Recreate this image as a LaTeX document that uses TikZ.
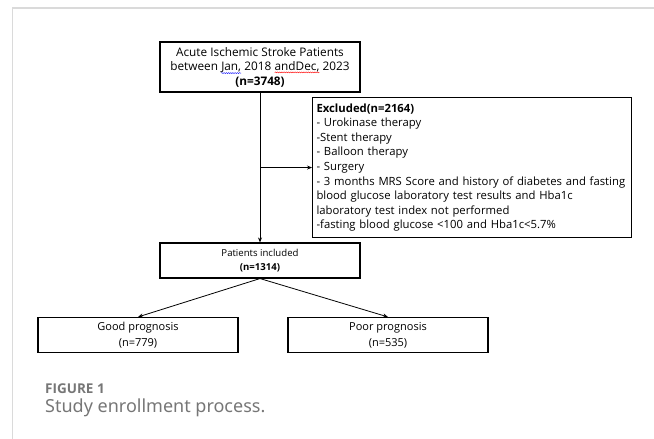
\documentclass[tikz,border=0pt]{standalone}
\usepackage{fontspec}
\setmainfont{Open Sans}
\newfontfamily\capfont{Noto Sans}
\usetikzlibrary{positioning,arrows.meta,decorations.pathmorphing}
\definecolor{framegray}{RGB}{218,218,218}
\definecolor{capgray}{RGB}{118,118,118}

% spell-check style wavy underline
\newcommand{\squig}[2]{\tikz[baseline=(sq.base)]{\node[draw=none, font={}, inner sep=0pt, outer sep=0pt,
    minimum width=0pt, minimum height=0pt] (sq) {#2};
  \draw[#1, line width=0.4pt, decorate, decoration={snake, amplitude=0.5pt, segment length=2.2pt}]
    ([yshift=-0.3pt]sq.south west) -- ([yshift=-0.3pt]sq.south east);}}

\begin{document}
\begin{tikzpicture}[x=1pt, y=-1pt, every node/.style={font=\fontsize{11.8}{14.5}\selectfont}]
  \tikzset{
    box/.style={draw, line width=1.1pt, minimum width=200pt, minimum height=35pt, align=center, inner sep=2pt},
    link/.style={line width=0.8pt, -{Stealth[length=5pt, width=4pt]}}
  }
  \useasboundingbox (0,0) rectangle (654,439);

  % --- panel frame ---
  \draw[framegray, line width=1.2pt] (654,8) -- (12.5,8) -- (12.5,439);

  % --- enrollment boxes ---
  \node[box, minimum height=50pt] (total) at (260,67)
    {Acute Ischemic Stroke Patients\\between \squig{blue}{Jan,} 2018 \squig{red}{andDec,} 2023\\\textbf{(n=3748)}};
  \node[box, anchor=north west, minimum width=319pt, minimum height=140pt, text width=311pt,
        align=left, inner xsep=4pt, font=\fontsize{11.3}{14.6}\selectfont] (excl) at (312,97)
    {\textbf{Excluded(n=2164)}\\
     - Urokinase therapy\\
     -Stent therapy\\
     - Balloon therapy\\
     - Surgery\\
     - 3 months MRS Score and history of diabetes and fasting\\
     blood glucose laboratory test results and Hba1c\\
     laboratory test index not performed\\
     -fasting blood glucose <100 and Hba1c<5.7\%};
  \node[box, font=\fontsize{9.6}{14}\selectfont] (incl) at (260,260.5) {Patients included\\\textbf{(n=1314)}};
  \node[box, font=\fontsize{11}{16}\selectfont] (good) at (138,335) {Good prognosis\\(n=779)};
  \node[box, font=\fontsize{11}{16}\selectfont] (poor) at (388,335) {Poor prognosis\\(n=535)};

  % --- connectors ---
  \coordinate (split) at (total.south |- excl.west);
  \draw[link] (total.south) -- (incl.north);
  \draw[link] (split) -- (excl.west);
  \draw[link] (incl.south) -- (good.north);
  \draw[link] (incl.south) -- (poor.north);

  % --- caption ---
  \node[anchor=west, inner sep=0pt, text=capgray, font=\bfseries\fontsize{13.5}{16}\selectfont] (fig) at (45,389) {FIGURE 1};
  \node[anchor=west, inner sep=0pt, text=capgray, font=\capfont\fontsize{18}{21}\selectfont] (cap) at (45,408) {Study enrollment process.};
\end{tikzpicture}
\end{document}
